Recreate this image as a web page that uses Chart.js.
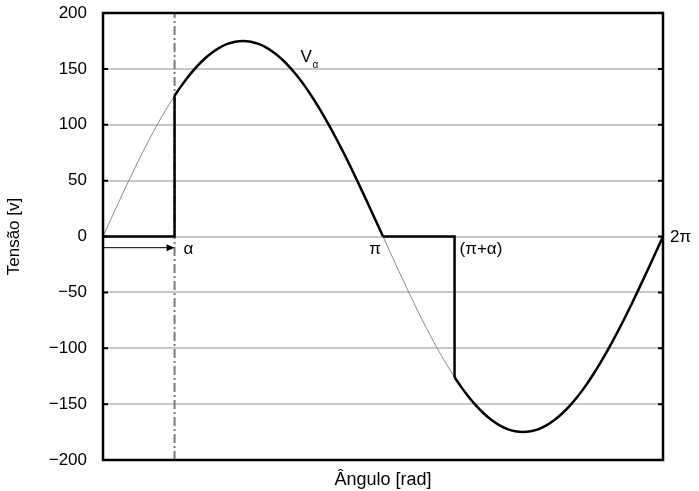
<!DOCTYPE html>
<html>
<head>
<meta charset="utf-8">
<script src="https://cdn.jsdelivr.net/npm/chart.js@4.4.0/dist/chart.umd.min.js"></script>
<style>
  html, body { margin: 0; padding: 0; background: #fff; }
  #wrap { width: 699px; height: 491px; }
</style>
</head>
<body>
<div id="wrap"><canvas id="chart"></canvas></div>
<script>
// angle in degrees (0..360 = 0..2pi), voltage
const angleDeg = [0, 5, 10, 15, 20, 25, 30, 35, 40, 45, 50, 55, 60, 65, 70, 75, 80, 85, 90,
                  95, 100, 105, 110, 115, 120, 125, 130, 135, 140, 145, 150, 155, 160, 165, 170, 175, 180,
                  185, 190, 195, 200, 205, 210, 215, 220, 225, 230, 235, 240, 245, 250, 255, 260, 265, 270,
                  275, 280, 285, 290, 295, 300, 305, 310, 315, 320, 325, 330, 335, 340, 345, 350, 355, 360];
const fullWave = [0, 15.3, 30.4, 45.3, 59.9, 74.0, 87.5, 100.4, 112.5, 123.7, 134.1, 143.4, 151.6, 158.6, 164.4, 169.0, 172.3, 174.3, 175,
                  174.3, 172.3, 169.0, 164.4, 158.6, 151.6, 143.4, 134.1, 123.7, 112.5, 100.4, 87.5, 74.0, 59.9, 45.3, 30.4, 15.3, 0,
                  -15.3, -30.4, -45.3, -59.9, -74.0, -87.5, -100.4, -112.5, -123.7, -134.1, -143.4, -151.6, -158.6, -164.4, -169.0, -172.3, -174.3, -175,
                  -174.3, -172.3, -169.0, -164.4, -158.6, -151.6, -143.4, -134.1, -123.7, -112.5, -100.4, -87.5, -74.0, -59.9, -45.3, -30.4, -15.3, 0];
const alphaDeg = 46;
const alphaVolt = 125.9;
const yTicks = [-200, -150, -100, -50, 0, 50, 100, 150, 200];

const FONT = "'Liberation Sans', Arial, sans-serif";

function pts(xs, ys) {
    return xs.map((x, i) => ({ x: x, y: ys[i] }));
}

const waveAll = pts(angleDeg, fullWave);
const firstHalf = [{ x: alphaDeg, y: alphaVolt }].concat(waveAll.filter(p => p.x > alphaDeg && p.x <= 180));
const secondHalf = [{ x: 180 + alphaDeg, y: -alphaVolt }].concat(waveAll.filter(p => p.x > 180 + alphaDeg));
const stepOne = [{ x: 0, y: 0 }, { x: alphaDeg, y: 0 }, { x: alphaDeg, y: alphaVolt }];
const stepTwo = [{ x: 180, y: 0 }, { x: 180 + alphaDeg, y: 0 }, { x: 180 + alphaDeg, y: -alphaVolt }];

const annotations = {
    id: 'annotations',
    afterDatasetsDraw(chart) {
        const ctx = chart.ctx;
        const xs = chart.scales.x, ys = chart.scales.y;
        const a = chart.chartArea;
        ctx.save();

        // frame
        ctx.strokeStyle = '#000';
        ctx.lineWidth = 2.5;
        ctx.strokeRect(a.left, a.top, a.right - a.left, a.bottom - a.top);

        // small inward ticks on both sides
        ctx.lineWidth = 2;
        yTicks.forEach(v => {
            const y = ys.getPixelForValue(v);
            ctx.beginPath();
            ctx.moveTo(a.left, y); ctx.lineTo(a.left + 5, y);
            ctx.moveTo(a.right, y); ctx.lineTo(a.right - 5, y);
            ctx.stroke();
        });

        // arrow 0 -> alpha
        const ay = ys.getPixelForValue(-10);
        const x0 = xs.getPixelForValue(0), x1 = xs.getPixelForValue(alphaDeg);
        ctx.lineWidth = 1;
        ctx.beginPath();
        ctx.moveTo(x0, ay); ctx.lineTo(x1 - 6, ay);
        ctx.stroke();
        ctx.fillStyle = '#000';
        ctx.beginPath();
        ctx.moveTo(x1, ay); ctx.lineTo(x1 - 8, ay - 3.5); ctx.lineTo(x1 - 8, ay + 3.5);
        ctx.closePath();
        ctx.fill();

        // labels
        ctx.fillStyle = '#000';
        ctx.font = '17px ' + FONT;
        ctx.textBaseline = 'middle';
        const y0 = ys.getPixelForValue(0);
        ctx.textAlign = 'left';
        ctx.fillText('α', x1 + 9, y0 + 13);
        ctx.textAlign = 'right';
        ctx.fillText('π', xs.getPixelForValue(180) - 2, y0 + 13);
        ctx.textAlign = 'left';
        ctx.fillText('(π+α)', xs.getPixelForValue(180 + alphaDeg) + 5, y0 + 13);
        ctx.fillText('2π', a.right + 7, y0 + 1);

        const vx = xs.getPixelForValue(127), vy = ys.getPixelForValue(160);
        ctx.font = '17px ' + FONT;
        ctx.fillText('V', vx, vy);
        ctx.font = '10px ' + FONT;
        ctx.fillText('α', vx + 12, vy + 8);
        ctx.restore();
    }
};

new Chart(document.getElementById('chart'), {
    type: 'line',
    data: {
        datasets: [
            { data: stepOne, borderColor: '#000', borderWidth: 2.5, tension: 0, order: 1 },
            { data: firstHalf, borderColor: '#000', borderWidth: 2.5, cubicInterpolationMode: 'monotone', order: 1 },
            { data: stepTwo, borderColor: '#000', borderWidth: 2.5, tension: 0, order: 1 },
            { data: secondHalf, borderColor: '#000', borderWidth: 2.5, cubicInterpolationMode: 'monotone', order: 1 },
            { data: [{ x: alphaDeg, y: -200 }, { x: alphaDeg, y: 200 }], borderColor: '#7a7a7a', borderWidth: 2,
              borderDash: [9, 3, 2, 3], order: 2 },
            { data: waveAll, borderColor: '#8a8a8a', borderWidth: 1, cubicInterpolationMode: 'monotone', order: 3 }
        ]
    },
    options: {
        responsive: true,
        maintainAspectRatio: false,
        animation: false,
        devicePixelRatio: 1,
        elements: { point: { radius: 0 } },
        layout: { padding: { left: 0, right: 36, top: 13, bottom: 0 } },
        plugins: { legend: { display: false }, tooltip: { enabled: false } },
        scales: {
            x: {
                type: 'linear', min: 0, max: 360,
                grid: { display: false },
                border: { display: false },
                ticks: { display: false },
                title: { display: true, text: 'Ângulo [rad]', color: '#000', font: { family: FONT, size: 18 }, padding: { top: 4, bottom: 0 } },
                afterFit(scale) { scale.height = 31; }
            },
            y: {
                min: -200, max: 200,
                afterBuildTicks(scale) { scale.ticks = yTicks.map(v => ({ value: v })); },
                grid: { color: '#c8c8c8', lineWidth: 2, drawTicks: false },
                border: { display: false },
                ticks: {
                    color: '#000', padding: 16, font: { family: FONT, size: 17 },
                    callback: v => (v < 0 ? '\u2212' + Math.abs(v) : String(v))
                },
                title: { display: true, text: 'Tensão [v]', color: '#000', font: { family: FONT, size: 17 }, padding: { top: 4, bottom: 0 } },
                afterFit(scale) { scale.width = 103; scale.paddingTop = 0; scale.paddingBottom = 0; }
            }
        }
    },
    plugins: [annotations]
});
</script>
</body>
</html>
